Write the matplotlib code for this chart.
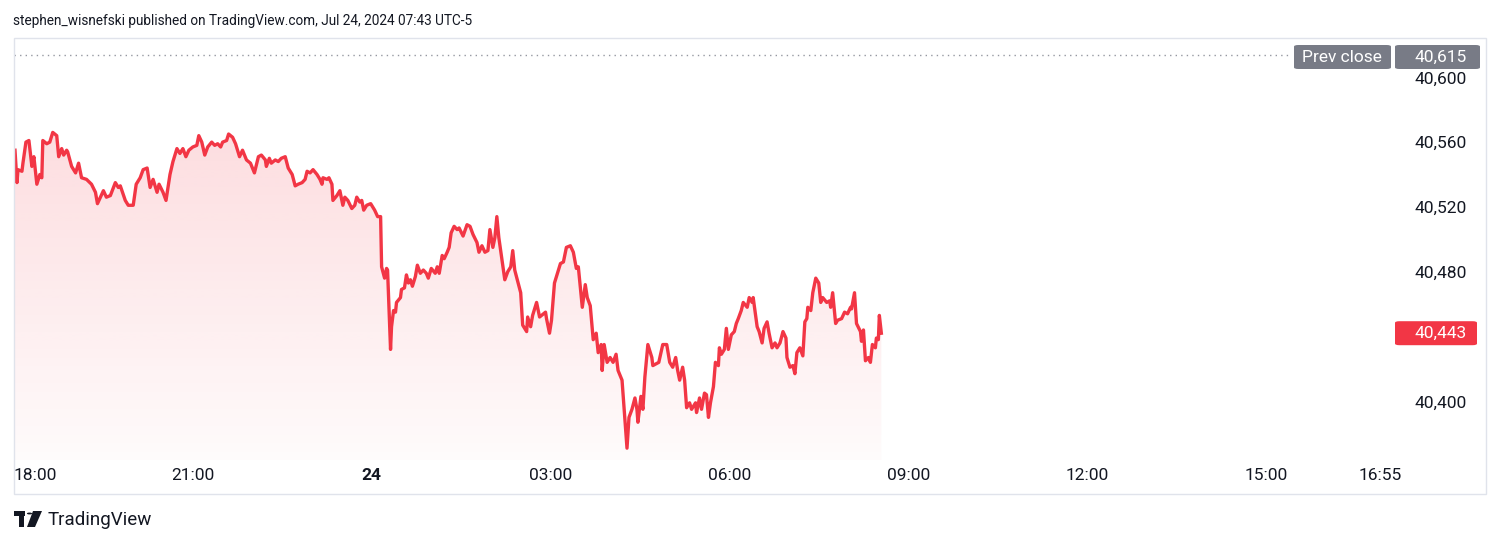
import matplotlib.pyplot as plt
import numpy as np
from matplotlib.patches import Polygon, Rectangle, FancyBboxPatch, Circle
from matplotlib.transforms import blended_transform_factory

# minutes after 18:00 (Jul 23) and index level
minutes = [1, 3, 4, 8, 9, 12, 15, 18, 20, 23, 26, 28, 29, 33, 36, 39, 43, 45, 48, 50,
           53, 54, 58, 62, 65, 68, 73, 78, 82, 84, 87, 90, 93, 97, 102, 105, 107, 112, 115, 120,
           123, 127, 130, 134, 137, 140, 144, 146, 150, 153, 157, 160, 164, 167, 170, 173, 176, 180, 184, 186,
           189, 192, 195, 199, 202, 205, 208, 210, 214, 216, 220, 223, 227, 230, 234, 238, 242, 246, 249, 253,
           254, 257, 259, 263, 266, 269, 273, 276, 280, 283, 286, 290, 293, 295, 298, 301, 305, 308, 310, 311,
           315, 317, 320, 321, 325, 328, 331, 333, 336, 340, 343, 345, 348, 350, 352, 355, 359, 363, 366, 369,
           370, 373, 375, 376, 379, 380, 382, 384, 385, 389, 390, 393, 395, 397, 399, 401, 404, 406, 409, 412,
           415, 417, 420, 424, 426, 428, 431, 433, 436, 438, 440, 443, 446, 448, 452, 456, 459, 462, 466, 468,
           471, 474, 477, 479, 482, 484, 486, 488, 491, 494, 497, 500, 502, 504, 507, 510, 512, 516, 517, 520,
           522, 526, 529, 535, 536, 539, 541, 544, 547, 550, 553, 556, 560, 563, 566, 568, 572, 575, 577, 580,
           583, 586, 588, 591, 592, 594, 597, 600, 603, 606, 608, 612, 614, 617, 619, 622, 625, 627, 628, 631,
           633, 635, 638, 642, 643, 649, 653, 657, 660, 663, 666, 668, 670, 673, 675, 677, 680, 682, 686, 687,
           690, 692, 695, 697, 699, 701, 704, 706, 709, 710, 712, 715, 717, 719, 722, 725, 727, 729, 732, 734,
           738, 740, 743, 744, 748, 750, 753, 755, 758, 760, 763, 766, 768, 771, 774, 777, 778, 781, 784, 786,
           788, 791, 794, 796, 798, 799, 802, 804, 807, 810, 812, 814, 818, 821, 822, 824, 827, 829, 833, 836,
           839, 842, 843, 846, 848, 852, 853, 855, 857, 860, 862, 864, 867, 868, 870, 871, 873]
prices = [40556, 40536, 40544, 40543, 40548, 40561, 40562, 40546, 40552, 40535, 40541, 40539, 40562, 40560, 40561, 40567, 40565, 40552, 40557, 40553,
          40556, 40555, 40546, 40542, 40548, 40539, 40538, 40535, 40530, 40523, 40527, 40531, 40527, 40528, 40536, 40533, 40534, 40525, 40522, 40522,
          40535, 40539, 40544, 40545, 40533, 40538, 40530, 40535, 40530, 40525, 40541, 40549, 40557, 40554, 40557, 40552, 40556, 40558, 40559, 40565,
          40561, 40553, 40558, 40561, 40559, 40560, 40558, 40561, 40562, 40566, 40564, 40560, 40552, 40556, 40550, 40548, 40542, 40552, 40553, 40550,
          40546, 40551, 40548, 40550, 40549, 40551, 40552, 40545, 40541, 40534, 40535, 40536, 40538, 40543, 40542, 40544, 40541, 40538, 40535, 40539,
          40538, 40539, 40535, 40525, 40528, 40531, 40522, 40527, 40525, 40520, 40522, 40527, 40524, 40525, 40519, 40522, 40523, 40519, 40515, 40515,
          40484, 40477, 40483, 40482, 40433, 40447, 40457, 40456, 40462, 40465, 40470, 40471, 40479, 40474, 40476, 40472, 40478, 40485, 40480, 40482,
          40480, 40477, 40483, 40480, 40484, 40480, 40491, 40489, 40493, 40496, 40505, 40509, 40507, 40508, 40503, 40510, 40509, 40504, 40499, 40493,
          40497, 40493, 40494, 40507, 40496, 40502, 40515, 40502, 40489, 40476, 40481, 40484, 40494, 40482, 40475, 40468, 40448, 40444, 40453, 40447,
          40454, 40462, 40453, 40456, 40452, 40443, 40451, 40474, 40480, 40486, 40487, 40496, 40497, 40493, 40483, 40484, 40459, 40473, 40465, 40460,
          40439, 40443, 40431, 40436, 40420, 40436, 40425, 40428, 40425, 40430, 40420, 40414, 40397, 40372, 40391, 40396, 40403, 40396, 40388, 40404,
          40396, 40416, 40436, 40428, 40423, 40425, 40436, 40436, 40425, 40422, 40428, 40420, 40414, 40422, 40414, 40397, 40400, 40396, 40400, 40394,
          40403, 40396, 40406, 40405, 40391, 40400, 40410, 40425, 40423, 40434, 40430, 40433, 40446, 40433, 40442, 40444, 40449, 40452, 40457, 40462,
          40459, 40465, 40462, 40465, 40447, 40444, 40437, 40446, 40450, 40443, 40434, 40437, 40434, 40437, 40444, 40440, 40428, 40422, 40423, 40418,
          40431, 40434, 40429, 40450, 40452, 40459, 40457, 40468, 40477, 40474, 40462, 40465, 40462, 40463, 40459, 40468, 40449, 40451, 40452, 40456,
          40455, 40459, 40458, 40468, 40449, 40444, 40438, 40445, 40426, 40428, 40425, 40436, 40434, 40440, 40439, 40454, 40443]

prev_close = 40615
tick_minutes = [0, 180, 360, 540, 720, 900, 1080, 1260, 1375]
tick_labels = ['18:00', '21:00', '24', '03:00', '06:00', '09:00', '12:00', '15:00', '16:55']
price_ticks = [40400, 40480, 40520, 40560, 40600]

RED = '#f23645'
GREY = '#787b86'
TXT = '#131722'
W, H = 1500, 544

plt.rcParams['font.family'] = ['Roboto', 'DejaVu Sans']

fig = plt.figure(figsize=(15, 5.44), dpi=100)


def fx(x):
    return x / W


def fy(y):
    return 1 - y / H


# outer pane frame
fig.patches.append(Rectangle((fx(14), fy(494)), fx(1486) - fx(14), fy(38) - fy(494),
                             transform=fig.transFigure, facecolor='none',
                             edgecolor='#e0e3eb', lw=1))

ax = fig.add_axes([fx(14), fy(460), fx(1393) - fx(14), fy(38) - fy(460)])
ax.set_facecolor('none')
for s in ax.spines.values():
    s.set_visible(False)
ax.set_xticks([])
ax.set_yticks([])

ybot = 40364.7
ytop = 40625.3
x0, x1 = 0, 1388

t = np.array(minutes, dtype=float)
p = np.array(prices, dtype=float)

# gradient fill under the line
grad = np.zeros((256, 1, 4))
grad[:, 0, :3] = [242 / 255, 54 / 255, 69 / 255]
grad[:, 0, 3] = np.linspace(0.17, 0.02, 256)
im = ax.imshow(grad, extent=[t[0], t[-1], ybot, p.max()], aspect='auto',
               origin='upper', zorder=1, interpolation='bilinear')
verts = np.vstack([np.column_stack([t, p]), [[t[-1], ybot], [t[0], ybot]]])
clip = Polygon(verts, closed=True, transform=ax.transData, facecolor='none', edgecolor='none')
ax.add_patch(clip)
im.set_clip_path(clip)

ax.plot(t, p, color=RED, lw=2.4, zorder=3, solid_joinstyle='round')

# previous close dotted line
ax.plot([x0, 1283], [prev_close, prev_close], color='#9598a1', lw=1, ls=(0, (1, 3)), zorder=2)

ax.set_xlim(x0, x1)
ax.set_ylim(ybot, ytop)

# time labels
tb = blended_transform_factory(ax.transData, fig.transFigure)
for m, lab in zip(tick_minutes, tick_labels):
    xm = m
    ha = 'center'
    if m == 0:
        ha = 'left'
        xm = 0
    ax.text(xm, fy(476), lab, transform=tb, ha=ha, va='center', fontsize=12.5,
            color=TXT, fontweight='bold' if lab == '24' else 'normal', clip_on=False)

# price labels
pb = blended_transform_factory(fig.transFigure, ax.transData)
for v in price_ticks:
    ax.text(fx(1467), v, f'{v:,}', transform=pb, ha='right', va='center',
            fontsize=12.5, color=TXT, clip_on=False)

# prev close tag
for (xa, xb, lab) in [(1294, 1391, 'Prev close'), (1395, 1480, f'{prev_close:,}')]:
    fig.patches.append(FancyBboxPatch((fx(xa), fy(69)), fx(xb) - fx(xa), fy(45) - fy(69),
                                      boxstyle='round,pad=0,rounding_size=0.003',
                                      transform=fig.transFigure, facecolor=GREY,
                                      edgecolor='none', zorder=5))
fig.text(fx(1342), fy(57), 'Prev close', ha='center', va='center', fontsize=12.5, color='white', zorder=6)
fig.text(fx(1467), fy(57), f'{prev_close:,}', ha='right', va='center', fontsize=12.5, color='white', zorder=6)

# last value tag
last = prices[-1]
ly = fig.transFigure.inverted().transform(ax.transData.transform((0, last)))[1]
fig.patches.append(FancyBboxPatch((fx(1395), ly - 12 / H), fx(1477) - fx(1395), 24 / H,
                                  boxstyle='round,pad=0,rounding_size=0.003',
                                  transform=fig.transFigure, facecolor=RED,
                                  edgecolor='none', zorder=5))
fig.text(fx(1467), ly, f'{last:,}', ha='right', va='center', fontsize=12.5, color='white', zorder=6)

# header
fig.text(fx(13), fy(21), 'stephen_wisnefski published on TradingView.com, Jul 24, 2024 07:43 UTC-5',
         ha='left', va='center', fontsize=9.8, color=TXT)

# footer logo
fig.patches.append(Rectangle((fx(14), fy(516)), fx(25) - fx(14), 5 / H, transform=fig.transFigure,
                             facecolor=TXT, edgecolor='none'))
fig.patches.append(Rectangle((fx(19), fy(527)), fx(24) - fx(19), 11 / H, transform=fig.transFigure,
                             facecolor=TXT, edgecolor='none'))
fig.patches.append(Circle((fx(29.5), fy(513.5)), 2.6 / W, transform=fig.transFigure,
                          facecolor=TXT, edgecolor='none'))
fig.patches.append(Polygon([(fx(33), fy(511)), (fx(42), fy(511)), (fx(35), fy(527)), (fx(27), fy(527))],
                           closed=True, transform=fig.transFigure, facecolor=TXT, edgecolor='none'))
fig.text(fx(48), fy(520), 'TradingView', ha='left', va='center', fontsize=13.5, color=TXT)

fig.savefig('out.png', dpi=100, facecolor='white')
